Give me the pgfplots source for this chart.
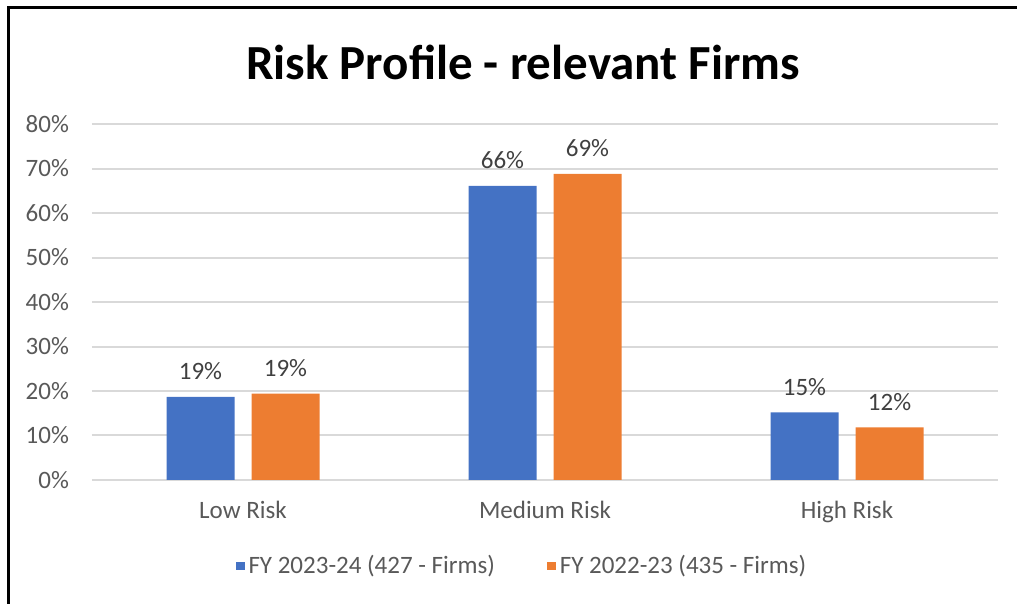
\documentclass[border=0pt]{standalone}
\usepackage{fontspec}
\setmainfont{Carlito}
\usepackage{pgfplots}
\pgfplotsset{compat=1.18}

\definecolor{blueS}{HTML}{4472C4}
\definecolor{orangeS}{HTML}{ED7D31}
\definecolor{gridc}{HTML}{D9D9D9}
\definecolor{tickc}{HTML}{595959}
\definecolor{labc}{HTML}{404040}

\begin{document}
\begin{tikzpicture}[x=0.5pt,y=0.5pt]
\useasboundingbox (0,0) rectangle (1017,604);
% frame (left and top edges only, as in the screenshot)
\draw[line width=1.5pt] (8,0) -- (8,596) -- (1017,596);
\node[font=\fontsize{24.5}{28}\selectfont\bfseries] at (523,542) {Risk Profile - relevant Firms};
\coordinate (O) at (92,124);
\begin{axis}[
  at={(O)}, anchor=south west,
  scale only axis, width=453pt, height=178pt,
  ybar, bar width=34pt, ybar=8.5pt,
  xmin=-0.5, xmax=2.5, ymin=0, ymax=80,
  xtick={0,1,2}, xticklabels={Low Risk, Medium Risk, High Risk},
  ytick={0,10,...,80},
  yticklabel={\pgfmathprintnumber{\tick}\%},
  /pgf/number format/assume math mode=true,
  ymajorgrids, grid style={gridc, line width=1pt},
  axis line style={draw=none},
  major tick length=0pt,
  tick label style={font=\fontsize{12.5}{14}\selectfont, text=tickc},
  yticklabel style={xshift=-8pt},
  xticklabel style={yshift=-7pt},
  nodes near coords={\pgfmathprintnumber[fixed,precision=0]{\pgfplotspointmeta}\%},
  every node near coord/.append style={font=\fontsize{12.5}{14}\selectfont, text=labc, yshift=5pt},
  legend style={at={(0.4757,-0.2416)}, anchor=center, draw=none,
    legend columns=2, font=\fontsize{12.5}{14}\selectfont, text=tickc,
    /tikz/every even column/.append style={column sep=24pt}},
  legend image code/.code={\fill[#1] (0pt,-2.2pt) rectangle (4.4pt,2.2pt);},
  clip=false
]
\addplot[fill=blueS, draw=none] coordinates {(0,18.7) (1,66.1) (2,15.2)};
\addlegendentry{FY 2023-24 (427 - Firms)}
\addplot[fill=orangeS, draw=none] coordinates {(0,19.4) (1,68.8) (2,11.8)};
\addlegendentry{FY 2022-23 (435 - Firms)}
\end{axis}
\end{tikzpicture}
\end{document}
